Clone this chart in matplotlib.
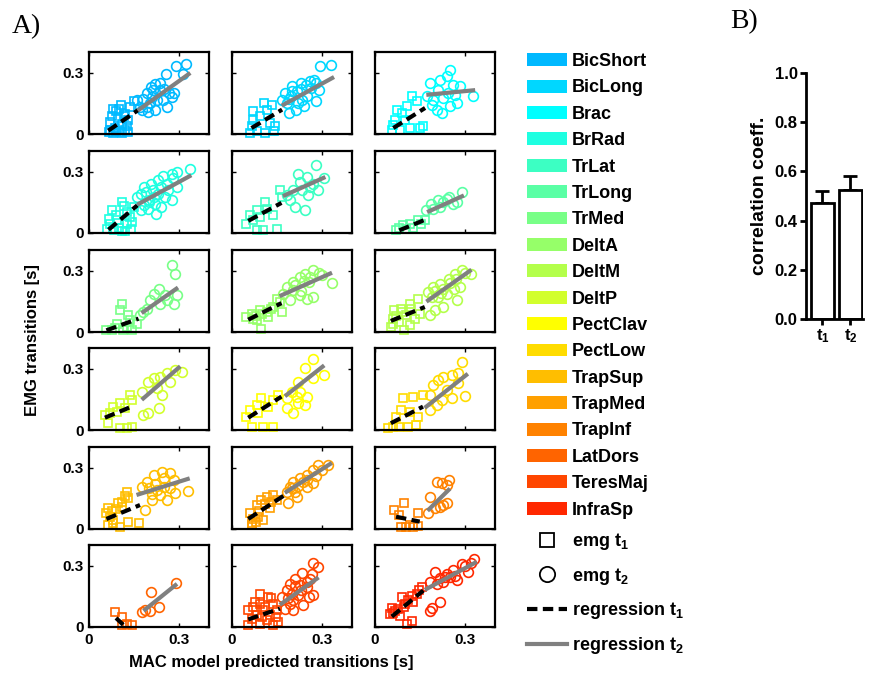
import numpy as np
import matplotlib
matplotlib.use('Agg')
import matplotlib.pyplot as plt
from matplotlib.patches import Patch
from matplotlib.lines import Line2D

plt.rcParams['font.family'] = ['Liberation Sans', 'DejaVu Sans']
plt.rcParams['font.weight'] = 'bold'
plt.rcParams['mathtext.fontset'] = 'custom'
plt.rcParams['mathtext.rm'] = 'Liberation Sans:bold'
plt.rcParams['mathtext.it'] = 'Liberation Sans:bold'
plt.rcParams['mathtext.bf'] = 'Liberation Sans:bold'

# muscles, in legend order (panels fill row by row)
muscles = ['BicShort', 'BicLong', 'Brac', 'BrRad', 'TrLat', 'TrLong', 'TrMed',
           'DeltA', 'DeltM', 'DeltP', 'PectClav', 'PectLow', 'TrapSup',
           'TrapMed', 'TrapInf', 'LatDors', 'TeresMaj', 'InfraSp']
muscle_colors = ['#00B9FF', '#00D7FF', '#00FFFF', '#1EFFE1', '#3CFFC3', '#5AFFA5',
                 '#78FF87', '#96FF69', '#B4FF4B', '#D2FF2D', '#FFFF00', '#FFDC00',
                 '#FFBE00', '#FFA000', '#FF8200', '#FF6400', '#FF4600', '#FF2800']

# (MAC predicted, EMG) transitions [s]; t1 = squares, t2 = circles
bicshort_t1 = [(0.065, 0.01), (0.08, 0.005), (0.1, 0.01), (0.12, 0.02), (0.13, 0.01),
               (0.075, 0.09), (0.09, 0.11), (0.1, 0.12), (0.12, 0.1), (0.135, 0.13),
               (0.15, 0.16), (0.07, 0.06), (0.11, 0.05), (0.125, 0.04), (0.085, 0.03),
               (0.07, 0.02), (0.09, 0.015), (0.11, 0.005), (0.095, 0.08), (0.115, 0.09),
               (0.08, 0.12), (0.105, 0.14), (0.13, 0.07)]
bicshort_t2 = [(0.322, 0.343), (0.289, 0.33), (0.313, 0.292), (0.256, 0.292), (0.22, 0.246),
               (0.214, 0.214), (0.192, 0.198), (0.181, 0.173), (0.159, 0.165), (0.175, 0.117),
               (0.198, 0.109), (0.22, 0.117), (0.248, 0.165), (0.276, 0.181), (0.282, 0.198),
               (0.237, 0.214), (0.259, 0.133), (0.203, 0.149), (0.226, 0.165), (0.192, 0.133),
               (0.205, 0.23), (0.235, 0.25), (0.265, 0.2), (0.21, 0.18), (0.25, 0.22),
               (0.17, 0.13)]
biclong_t1 = [(0.105, 0.151), (0.133, 0.143), (0.071, 0.11), (0.094, 0.086), (0.065, 0.037),
              (0.127, 0.054), (0.139, 0.013), (0.082, 0.013), (0.06, 0.005), (0.11, 0.005),
              (0.116, 0.119), (0.071, 0.07), (0.144, 0.037)]
biclong_t2 = [(0.292, 0.333), (0.331, 0.338), (0.274, 0.265), (0.229, 0.249), (0.2, 0.233),
              (0.178, 0.2), (0.167, 0.167), (0.184, 0.151), (0.212, 0.119), (0.24, 0.135),
              (0.251, 0.184), (0.279, 0.159), (0.291, 0.216), (0.263, 0.224), (0.218, 0.208),
              (0.195, 0.184), (0.234, 0.167), (0.189, 0.102), (0.246, 0.241),
              (0.26, 0.26), (0.23, 0.22), (0.2, 0.21), (0.28, 0.25), (0.22, 0.15), (0.19, 0.17)]
brac_t1 = [(0.056, 0.021), (0.083, 0.021), (0.117, 0.029), (0.15, 0.029), (0.161, 0.037),
           (0.067, 0.07), (0.089, 0.102), (0.105, 0.135), (0.139, 0.159), (0.122, 0.184),
           (0.072, 0.119), (0.1, 0.07), (0.061, 0.046)]
brac_t2 = [(0.25, 0.314), (0.239, 0.281), (0.183, 0.249), (0.216, 0.265), (0.261, 0.241),
           (0.283, 0.233), (0.327, 0.184), (0.272, 0.151), (0.25, 0.135), (0.205, 0.119),
           (0.194, 0.167), (0.228, 0.176), (0.172, 0.184), (0.211, 0.216), (0.244, 0.2),
           (0.267, 0.192), (0.189, 0.143), (0.222, 0.102)]
brrad_t1 = [(0.065, 0.07), (0.076, 0.111), (0.11, 0.152), (0.127, 0.103), (0.093, 0.062),
            (0.059, 0.021), (0.082, 0.013), (0.11, 0.01), (0.139, 0.021), (0.127, 0.046),
            (0.07, 0.046), (0.099, 0.026), (0.144, 0.054), (0.15, 0.127),
            (0.08, 0.02), (0.12, 0.01), (0.09, 0.09), (0.115, 0.13), (0.135, 0.08)]
brrad_t2 = [(0.335, 0.31), (0.292, 0.298), (0.275, 0.29), (0.247, 0.277), (0.229, 0.258),
            (0.207, 0.241), (0.184, 0.225), (0.173, 0.192), (0.184, 0.135), (0.173, 0.111),
            (0.195, 0.119), (0.224, 0.095), (0.241, 0.127), (0.275, 0.16), (0.292, 0.225),
            (0.264, 0.209), (0.218, 0.176), (0.252, 0.176), (0.201, 0.152), (0.241, 0.225),
            (0.212, 0.209), (0.161, 0.176), (0.19, 0.2), (0.23, 0.19), (0.26, 0.24),
            (0.28, 0.27), (0.2, 0.16), (0.22, 0.14)]
trlat_t1 = [(0.048, 0.046), (0.059, 0.086), (0.082, 0.111), (0.109, 0.152), (0.115, 0.119),
            (0.093, 0.078), (0.137, 0.086), (0.16, 0.209), (0.165, 0.176), (0.082, 0.013),
            (0.104, 0.016), (0.149, 0.021), (0.07, 0.062)]
trlat_t2 = [(0.28, 0.334), (0.305, 0.269), (0.288, 0.209), (0.244, 0.111), (0.21, 0.127),
            (0.221, 0.29), (0.249, 0.274), (0.271, 0.241), (0.204, 0.209), (0.182, 0.184),
            (0.227, 0.249), (0.254, 0.184), (0.193, 0.16), (0.232, 0.209), (0.26, 0.225)]
trlong_t1 = [(0.07, 0.016), (0.092, 0.037), (0.115, 0.046), (0.143, 0.065), (0.166, 0.062),
             (0.081, 0.026), (0.104, 0.021), (0.126, 0.026), (0.154, 0.046)]
trlong_t2 = [(0.29, 0.2), (0.273, 0.152), (0.245, 0.176), (0.239, 0.168), (0.211, 0.16),
             (0.188, 0.14), (0.171, 0.111), (0.216, 0.127), (0.261, 0.143), (0.194, 0.119),
             (0.228, 0.152)]
trmed_t1 = [(0.058, 0.011), (0.075, 0.008), (0.109, 0.138), (0.103, 0.106), (0.131, 0.081),
            (0.137, 0.057), (0.159, 0.041), (0.092, 0.041), (0.125, 0.024), (0.142, 0.008),
            (0.114, 0.011), (0.086, 0.021)]
trmed_t2 = [(0.277, 0.325), (0.288, 0.281), (0.293, 0.179), (0.282, 0.138), (0.26, 0.154),
            (0.215, 0.187), (0.232, 0.211), (0.204, 0.154), (0.181, 0.098), (0.193, 0.114),
            (0.237, 0.138), (0.254, 0.179), (0.17, 0.081)]
delta_t1 = [(0.048, 0.073), (0.065, 0.089), (0.093, 0.106), (0.115, 0.098), (0.137, 0.122),
            (0.149, 0.163), (0.16, 0.146), (0.098, 0.016), (0.082, 0.057), (0.121, 0.073),
            (0.07, 0.065), (0.165, 0.098), (0.08, 0.08), (0.1, 0.09), (0.13, 0.11)]
delta_t2 = [(0.333, 0.241), (0.271, 0.301), (0.244, 0.285), (0.227, 0.268), (0.204, 0.244),
            (0.182, 0.22), (0.271, 0.171), (0.249, 0.163), (0.227, 0.179), (0.193, 0.154),
            (0.299, 0.276), (0.255, 0.244), (0.204, 0.203), (0.171, 0.187),
            (0.21, 0.23), (0.24, 0.25), (0.26, 0.27), (0.23, 0.2), (0.29, 0.29)]
deltm_t1 = [(0.053, 0.024), (0.059, 0.065), (0.064, 0.106), (0.087, 0.114), (0.115, 0.138),
            (0.143, 0.163), (0.098, 0.008), (0.115, 0.033), (0.149, 0.089), (0.132, 0.065),
            (0.081, 0.049), (0.104, 0.081), (0.07, 0.08), (0.09, 0.1), (0.12, 0.11),
            (0.06, 0.04)]
deltm_t2 = [(0.29, 0.304), (0.32, 0.281), (0.267, 0.285), (0.245, 0.26), (0.216, 0.236),
            (0.194, 0.22), (0.177, 0.195), (0.273, 0.154), (0.284, 0.22), (0.228, 0.122),
            (0.183, 0.081), (0.2, 0.106), (0.239, 0.187), (0.262, 0.211), (0.211, 0.171),
            (0.228, 0.211), (0.25, 0.24), (0.27, 0.26), (0.2, 0.2), (0.22, 0.19),
            (0.3, 0.29), (0.19, 0.17)]
deltp_t1 = [(0.053, 0.073), (0.064, 0.033), (0.081, 0.114), (0.103, 0.13), (0.137, 0.171),
            (0.142, 0.146), (0.103, 0.011), (0.125, 0.011), (0.142, 0.016), (0.092, 0.089),
            (0.12, 0.106), (0.069, 0.081)]
deltp_t2 = [(0.288, 0.293), (0.31, 0.285), (0.26, 0.276), (0.237, 0.26), (0.215, 0.252),
            (0.198, 0.236), (0.226, 0.203), (0.243, 0.171), (0.181, 0.073), (0.198, 0.081),
            (0.232, 0.106), (0.176, 0.187), (0.271, 0.236)]
pectclav_t1 = [(0.048, 0.065), (0.059, 0.098), (0.082, 0.122), (0.098, 0.154), (0.121, 0.114),
               (0.137, 0.146), (0.153, 0.171), (0.065, 0.016), (0.104, 0.016), (0.137, 0.016),
               (0.087, 0.081)]
pectclav_t2 = [(0.271, 0.346), (0.244, 0.301), (0.305, 0.268), (0.271, 0.252), (0.221, 0.236),
               (0.199, 0.187), (0.227, 0.187), (0.249, 0.163), (0.221, 0.13), (0.244, 0.122),
               (0.182, 0.106), (0.204, 0.081), (0.182, 0.154), (0.216, 0.163)]
pectlow_t1 = [(0.042, 0.008), (0.059, 0.016), (0.07, 0.065), (0.092, 0.154), (0.126, 0.163),
              (0.16, 0.171), (0.087, 0.098), (0.115, 0.089), (0.137, 0.024), (0.109, 0.016),
              (0.143, 0.065), (0.081, 0.016)]
pectlow_t2 = [(0.29, 0.33), (0.278, 0.276), (0.256, 0.268), (0.228, 0.26), (0.211, 0.244),
              (0.194, 0.22), (0.183, 0.171), (0.301, 0.168), (0.256, 0.154), (0.222, 0.146),
              (0.183, 0.098), (0.205, 0.122), (0.239, 0.195), (0.278, 0.228)]
trapsup_t1 = [(0.058, 0.076), (0.064, 0.101), (0.097, 0.125), (0.125, 0.182), (0.131, 0.15),
              (0.109, 0.109), (0.081, 0.044), (0.064, 0.02), (0.103, 0.011), (0.131, 0.036),
              (0.165, 0.028), (0.069, 0.06), (0.075, 0.09), (0.09, 0.1), (0.11, 0.13),
              (0.12, 0.16), (0.08, 0.03)]
trapsup_t2 = [(0.243, 0.28), (0.271, 0.275), (0.215, 0.263), (0.193, 0.231), (0.176, 0.206),
              (0.282, 0.239), (0.288, 0.177), (0.33, 0.185), (0.237, 0.166), (0.187, 0.093),
              (0.209, 0.141), (0.249, 0.206), (0.226, 0.19), (0.26, 0.141),
              (0.2, 0.2), (0.22, 0.22), (0.25, 0.25), (0.27, 0.2), (0.21, 0.17)]
trapmed_t1 = [(0.059, 0.076), (0.065, 0.028), (0.082, 0.117), (0.098, 0.141), (0.115, 0.158),
              (0.137, 0.166), (0.104, 0.044), (0.087, 0.06), (0.126, 0.101), (0.149, 0.141),
              (0.065, 0.02), (0.07, 0.05), (0.09, 0.09), (0.11, 0.12), (0.13, 0.13),
              (0.08, 0.035)]
trapmed_t2 = [(0.288, 0.312), (0.321, 0.312), (0.271, 0.288), (0.249, 0.263), (0.227, 0.247),
              (0.204, 0.231), (0.193, 0.206), (0.182, 0.182), (0.188, 0.125), (0.216, 0.158),
              (0.249, 0.206), (0.271, 0.223), (0.238, 0.231), (0.2, 0.2), (0.22, 0.21),
              (0.25, 0.24), (0.28, 0.26), (0.3, 0.29), (0.21, 0.18)]
trapinf_t1 = [(0.064, 0.093), (0.098, 0.125), (0.081, 0.068), (0.143, 0.076), (0.087, 0.011),
              (0.104, 0.008), (0.126, 0.011), (0.143, 0.015), (0.115, 0.02)]
trapinf_t2 = [(0.205, 0.231), (0.222, 0.223), (0.245, 0.239), (0.183, 0.158), (0.177, 0.076),
              (0.2, 0.101), (0.228, 0.117), (0.239, 0.125), (0.216, 0.109), (0.239, 0.215)]
latdors_t1 = [(0.086, 0.073), (0.109, 0.049), (0.109, 0.008), (0.142, 0.008), (0.125, 0.013)]
latdors_t2 = [(0.291, 0.215), (0.206, 0.171), (0.232, 0.098), (0.187, 0.081), (0.204, 0.078),
              (0.176, 0.073)]
teresmaj_t1 = [(0.054, 0.081), (0.076, 0.122), (0.093, 0.163), (0.121, 0.147), (0.137, 0.114),
               (0.149, 0.081), (0.054, 0.008), (0.093, 0.016), (0.115, 0.033), (0.137, 0.008),
               (0.104, 0.081), (0.082, 0.057), (0.127, 0.057), (0.065, 0.041), (0.154, 0.024),
               (0.093, 0.114), (0.07, 0.1), (0.11, 0.1), (0.13, 0.14), (0.1, 0.05),
               (0.145, 0.05)]
teresmaj_t2 = [(0.271, 0.31), (0.288, 0.293), (0.232, 0.261), (0.21, 0.236), (0.193, 0.212),
               (0.182, 0.179), (0.165, 0.147), (0.176, 0.09), (0.204, 0.081), (0.238, 0.106),
               (0.271, 0.155), (0.249, 0.196), (0.221, 0.155), (0.204, 0.13), (0.255, 0.147),
               (0.227, 0.204), (0.193, 0.114), (0.26, 0.236), (0.2, 0.16), (0.23, 0.18),
               (0.25, 0.22), (0.21, 0.2), (0.265, 0.26), (0.185, 0.14)]
infrasp_t1 = [(0.05, 0.063), (0.056, 0.095), (0.089, 0.145), (0.1, 0.112), (0.122, 0.153),
              (0.155, 0.194), (0.105, 0.013), (0.122, 0.03), (0.067, 0.079), (0.083, 0.054),
              (0.128, 0.12), (0.06, 0.07), (0.075, 0.09), (0.095, 0.1), (0.11, 0.13),
              (0.14, 0.16), (0.145, 0.18)]
infrasp_t2 = [(0.331, 0.334), (0.289, 0.309), (0.311, 0.268), (0.261, 0.277), (0.233, 0.244),
              (0.2, 0.268), (0.183, 0.219), (0.216, 0.12), (0.183, 0.079), (0.189, 0.095),
              (0.25, 0.244), (0.272, 0.227), (0.205, 0.211), (0.228, 0.219), (0.3, 0.3),
              (0.32, 0.31), (0.24, 0.26), (0.265, 0.25), (0.215, 0.24)]

# regression line end points (x0, y0, x1, y1), one per muscle
reg_t1 = [(0.064, 0.016, 0.164, 0.117), (0.065, 0.029, 0.167, 0.119), (0.061, 0.029, 0.167, 0.127),
          (0.065, 0.016, 0.161, 0.135), (0.054, 0.059, 0.165, 0.147), (0.081, 0.013, 0.171, 0.067),
          (0.058, 0.008, 0.165, 0.065), (0.054, 0.06, 0.165, 0.141), (0.053, 0.054, 0.166, 0.122),
          (0.053, 0.06, 0.142, 0.114), (0.054, 0.06, 0.165, 0.163), (0.053, 0.033, 0.16, 0.114),
          (0.058, 0.049, 0.17, 0.117), (0.054, 0.049, 0.176, 0.166), (0.07, 0.06, 0.149, 0.036),
          (0.09, 0.044, 0.114, 0.011), (0.054, 0.037, 0.16, 0.09), (0.056, 0.051, 0.161, 0.178)]
reg_t2 = [(0.168, 0.12, 0.332, 0.292), (0.172, 0.143, 0.334, 0.273), (0.178, 0.192, 0.327, 0.213),
          (0.167, 0.143, 0.335, 0.277), (0.176, 0.184, 0.305, 0.269), (0.18, 0.106, 0.29, 0.179),
          (0.181, 0.098, 0.291, 0.211), (0.165, 0.179, 0.327, 0.285), (0.177, 0.154, 0.316, 0.298),
          (0.181, 0.154, 0.299, 0.304), (0.182, 0.171, 0.302, 0.309), (0.171, 0.114, 0.304, 0.268),
          (0.165, 0.169, 0.329, 0.244), (0.182, 0.182, 0.327, 0.317), (0.18, 0.096, 0.245, 0.19),
          (0.187, 0.085, 0.288, 0.204), (0.165, 0.114, 0.283, 0.236), (0.172, 0.186, 0.333, 0.313)]

emg_t1 = [bicshort_t1, biclong_t1, brac_t1, brrad_t1, trlat_t1, trlong_t1, trmed_t1,
          delta_t1, deltm_t1, deltp_t1, pectclav_t1, pectlow_t1, trapsup_t1,
          trapmed_t1, trapinf_t1, latdors_t1, teresmaj_t1, infrasp_t1]
emg_t2 = [bicshort_t2, biclong_t2, brac_t2, brrad_t2, trlat_t2, trlong_t2, trmed_t2,
          delta_t2, deltm_t2, deltp_t2, pectclav_t2, pectlow_t2, trapsup_t2,
          trapmed_t2, trapinf_t2, latdors_t2, teresmaj_t2, infrasp_t2]

# panel B
corr_labels = [r'$t_1$', r'$t_2$']
corr_mean = [0.47, 0.525]
corr_sem = [0.052, 0.056]

W, H = 876, 673
fig = plt.figure(figsize=(W / 100, H / 100), dpi=100)


def px_axes(left, top, width, height):
    return fig.add_axes([left / W, 1 - (top + height) / H, width / W, height / H])


col_left = [89, 232, 375]
row_top = [52, 151, 250, 348, 447, 545]

for i in range(18):
    r, c = divmod(i, 3)
    ax = px_axes(col_left[c], row_top[r], 120, 82)
    col = muscle_colors[i]
    p1 = np.array(emg_t1[i])
    p2 = np.array(emg_t2[i])
    ax.plot(p1[:, 0], p1[:, 1], 's', mfc='none', mec=col, ms=6, mew=1.2, clip_on=False)
    ax.plot(p2[:, 0], p2[:, 1], 'o', mfc='none', mec=col, ms=7, mew=1.2, clip_on=False)
    x0, y0, x1, y1 = reg_t1[i]
    ax.plot([x0, x1], [y0, y1], color='black', lw=3, dashes=(2.5, 1.3))
    x0, y0, x1, y1 = reg_t2[i]
    ax.plot([x0, x1], [y0, y1], color='#808080', lw=3)
    ax.set_xlim(0, 0.4)
    ax.set_ylim(0, 0.4)
    ax.set_xticks([0, 0.3])
    ax.set_yticks([0, 0.3])
    ax.tick_params(direction='in', length=3, width=1, top=True, right=True,
                   labelsize=11, pad=4)
    ax.set_xticklabels(['0', '0.3'] if r == 5 else [])
    ax.set_yticklabels(['0', '0.3'] if c == 0 else [])
    for s in ax.spines.values():
        s.set_linewidth(1.6)

fig.text(33 / W, 1 - 340 / H, 'EMG transitions [s]', rotation=90, ha='center', va='center',
         fontsize=12, fontweight='bold')
fig.text(271 / W, 1 - 663 / H, 'MAC model predicted transitions [s]', ha='center',
         va='center', fontsize=12, fontweight='bold')
fig.text(12 / W, 1 - 27 / H, 'A)', family='Liberation Serif', fontweight='normal',
         fontsize=20, ha='left', va='center')
fig.text(730 / W, 1 - 22 / H, 'B)', family='Liberation Serif', fontweight='normal',
         fontsize=20, ha='left', va='center')

# legend: muscle colours
muscle_handles = [Patch(facecolor=c, edgecolor='none') for c in muscle_colors]
fig.legend(muscle_handles, muscles, loc='upper left', bbox_to_anchor=(527 / W, 1 - 53 / H),
           frameon=False, handlelength=2.2, handleheight=0.72,
           handletextpad=0.3, labelspacing=0.52, borderpad=0, borderaxespad=0,
           prop={'weight': 'bold', 'size': 13})

# legend: symbols and regression lines
sym_handles = [Line2D([], [], ls='none', marker='s', mfc='none', mec='black', ms=10, mew=1.3),
               Line2D([], [], ls='none', marker='o', mfc='none', mec='black', ms=11, mew=1.3),
               Line2D([], [], color='black', lw=3, dashes=(2.5, 1.3)),
               Line2D([], [], color='#808080', lw=3)]
sym_labels = [r'emg $t_1$', r'emg $t_2$', r'regression $t_1$', r'regression $t_2$']
fig.legend(sym_handles, sym_labels, loc='upper left', bbox_to_anchor=(527 / W, 1 - 531 / H),
           frameon=False, handlelength=2.2, handleheight=0.72,
           handletextpad=0.3, labelspacing=0.76, borderpad=0, borderaxespad=0,
           prop={'weight': 'bold', 'size': 13})

# panel B
axb = px_axes(806, 73, 57, 246)
xb = np.arange(len(corr_mean))
axb.errorbar(xb, corr_mean, yerr=[np.zeros(len(corr_sem)), corr_sem], fmt='none',
             ecolor='black', elinewidth=2, capsize=5, capthick=2, zorder=1)
axb.bar(xb, corr_mean, width=0.82, color='white', edgecolor='black', linewidth=2, zorder=2)
axb.set_xlim(-0.59, 1.45)
axb.set_ylim(0, 1.0)
axb.set_yticks([0, 0.2, 0.4, 0.6, 0.8, 1.0])
axb.set_yticklabels(['0.0', '0.2', '0.4', '0.6', '0.8', '1.0'])
axb.set_xticks(xb)
axb.set_xticklabels(corr_labels)
axb.tick_params(direction='out', length=4, width=2, labelsize=12, pad=2)
axb.spines['top'].set_visible(False)
axb.spines['right'].set_visible(False)
axb.spines['left'].set_linewidth(2)
axb.spines['bottom'].set_linewidth(2)
axb.set_ylabel('correlation coeff.', fontsize=14, fontweight='bold', labelpad=5)

fig.savefig('out.png', dpi=100)
